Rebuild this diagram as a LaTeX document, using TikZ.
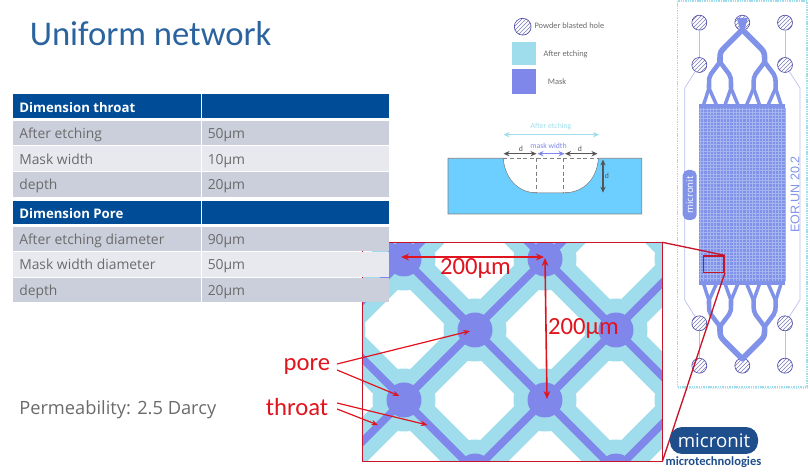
\documentclass[tikz,border=0pt]{standalone}
\usepackage{fontspec}
\setmainfont{Open Sans}
\newfontfamily\calfont{Carlito}
\newfontfamily\libfont{Liberation Sans}
\usetikzlibrary{patterns,arrows.meta,calc}
\definecolor{navy}{HTML}{004C97}
\definecolor{titleblue}{HTML}{2A639E}
\definecolor{rowa}{HTML}{CBCFDB}
\definecolor{rowb}{HTML}{E7E9EF}
\definecolor{txtgray}{HTML}{6B6B6B}
\definecolor{etch}{HTML}{A0DDEC}
\definecolor{mask}{HTML}{7F88EA}
\definecolor{chipblue}{HTML}{8093E8}
\definecolor{water}{HTML}{6DCFFF}
\definecolor{redl}{HTML}{E0141E}
\definecolor{darkred}{HTML}{C8142A}
\definecolor{logoblue}{HTML}{1F4E8C}
\definecolor{holeline}{HTML}{4F4FA8}
\definecolor{thinl}{HTML}{B9BEEE}
\definecolor{greyl}{HTML}{555555}
\tikzset{
  hd/.style={fill=navy,draw=none},
  ra/.style={fill=rowa,draw=none},
  rb/.style={fill=rowb,draw=none},
  tt/.style={anchor=base west,inner sep=0pt,text=txtgray,font=\fontsize{10.4}{12}\selectfont},
  th/.style={anchor=base west,inner sep=0pt,text=white,font=\fontsize{9.9}{12}\selectfont\bfseries},
  hole/.style={circle,draw=holeline,line width=.5pt,minimum size=11.2pt,inner sep=0pt,pattern=north east lines,pattern color=holeline!75},
  thin chip/.style={draw=thinl,line width=.5pt},
  tree/.style={draw=chipblue,line width=4.2pt,line join=round,line cap=round},
  treef/.style={draw=chipblue,line width=2.6pt,line join=round,line cap=round},
  redarrow/.style={draw=redl,line width=.9pt,-{Stealth[length=5pt,width=4pt]}},
  redboth/.style={draw=redl,line width=1.2pt,{Stealth[length=6pt,width=5pt]}-{Stealth[length=6pt,width=5pt]}},
  redlabel/.style={anchor=base,text=redl,inner sep=0pt,font=\calfont\fontsize{18.5}{20}\selectfont},
  dim/.style={draw=greyl,line width=.9pt,{Stealth[length=4.5pt,width=4pt]}-{Stealth[length=4.5pt,width=4pt]}},
  lg/.style={anchor=west,inner sep=0pt,text=txtgray,font=\calfont\fontsize{6.3}{7}\selectfont},
  small/.style={inner sep=0pt,font=\calfont\fontsize{5.8}{7}\selectfont},
}
\newcommand{\halftree}{%
  \draw[tree] (742,30) -- (726,46) .. controls (721,51) and (720,52) .. (720,58) -- (720,62);
  \draw[tree,line width=3.4pt] (720,62) -- (711,74) .. controls (709,77) and (709,78) .. (709,88);
  \draw[tree,line width=3.4pt] (720,62) -- (729,74) .. controls (731,77) and (731,78) .. (731,88);
  \draw[treef] (709,88) -- (703.5,105);
  \draw[treef] (709,88) -- (716.5,105);
  \draw[treef] (731,88) -- (725,105);
  \draw[treef] (731,88) -- (738,105);
}
\begin{document}
\begin{tikzpicture}[x=0.75pt,y=-0.75pt]
\useasboundingbox (0,0) rectangle (810,473);
% title
\node[anchor=west,inner sep=0pt,text=titleblue,font=\calfont\fontsize{26}{30}\selectfont] (title) at (29.5,34) {Uniform network};
% network
\begin{scope}
\clip (362.7,242.3) rectangle (662.3,461.7);
\foreach \i in {-1,...,2}{\foreach \j in {-1,...,2}{
  \draw[etch,line width=26.2pt,line cap=round] (404+141*\i,259+141*\j) -- ++(141,141);
  \draw[etch,line width=26.2pt,line cap=round] (404+141*\i,400+141*\j) -- ++(141,-141);
}}
\foreach \i in {-1,...,2}{\foreach \j in {-1,...,2}{
  \fill[etch] (404+141*\i,259+141*\j) circle[radius=31.5];
  \fill[etch] (475+141*\i,330+141*\j) circle[radius=31.5];
}}
\foreach \i in {-1,...,2}{\foreach \j in {-1,...,2}{
  \draw[mask,line width=5.6pt] (404+141*\i,259+141*\j) -- ++(141,141);
  \draw[mask,line width=5.6pt] (404+141*\i,400+141*\j) -- ++(141,-141);
}}
\foreach \i in {-1,...,2}{\foreach \j in {-1,...,2}{
  \fill[mask] (404+141*\i,259+141*\j) circle[radius=17.5];
  \fill[mask] (475+141*\i,330+141*\j) circle[radius=17.5];
}}
\end{scope}
\coordinate (bTL) at (362.7,242.3);
\coordinate (bTR) at (662.3,242.3);
\coordinate (bBR) at (662.3,461.7);
\coordinate (bBL) at (362.7,461.7);
\draw[darkred,line width=1pt] (bTL) -- (bTR) -- (bBR) -- (bBL) -- cycle;
% table
\fill[hd] (12.7,94.3) rectangle (200.7,118.3);
\fill[hd] (201.7,94.3) rectangle (389.3,118.3);
\fill[ra] (12.7,121) rectangle (200.7,145);
\fill[ra] (201.7,121) rectangle (389.3,145);
\fill[rb] (12.7,146) rectangle (200.7,171);
\fill[rb] (201.7,146) rectangle (389.3,171);
\fill[ra] (12.7,172.3) rectangle (200.7,196.7);
\fill[ra] (201.7,172.3) rectangle (389.3,196.7);
\fill[hd] (12.7,200.7) rectangle (200.7,224.3);
\fill[hd] (201.7,200.7) rectangle (389.3,224.3);
\fill[ra] (12.7,227.3) rectangle (200.7,250.7);
\fill[ra] (201.7,227.3) rectangle (389.3,250.7);
\fill[rb] (12.7,251.7) rectangle (200.7,277.3);
\fill[rb] (201.7,251.7) rectangle (389.3,277.3);
\fill[ra] (12.7,278.3) rectangle (200.7,302.3);
\fill[ra] (201.7,278.3) rectangle (389.3,302.3);
\node[th] (h1) at (19,113) {Dimension throat};
\node[tt] (a1) at (19,138.7) {After etching};
\node[tt] (a2) at (207.5,138.7) {50µm};
\node[tt] (b1) at (19,164.4) {Mask width};
\node[tt] (b2) at (207.5,164.4) {10µm};
\node[tt] (c1) at (19,189.7) {depth};
\node[tt] (c2) at (207.5,189.7) {20µm};
\node[th] (h2) at (19,218.4) {Dimension Pore};
\node[tt] (d1) at (19,244.7) {After etching diameter};
\node[tt] (d2) at (207.5,244.7) {90µm};
\node[tt] (e1) at (19,270) {Mask width diameter};
\node[tt] (e2) at (207.5,270) {50µm};
\node[tt] (f1) at (19,295.7) {depth};
\node[tt] (f2) at (207.5,295.7) {20µm};
\node[anchor=west,inner sep=0pt,text=txtgray,font=\fontsize{13.7}{15}\selectfont] (perm) at (19,410) {Permeability: 2.5 Darcy};
% legend
\node[hole,minimum size=12.6pt] (lh) at (522.7,26.7) {};
\node[lg] (lht) at (534.3,26) {Powder blasted hole};
\node[fill=etch,minimum width=17.8pt,minimum height=17.5pt,inner sep=0pt] (le) at (524.2,53.3) {};
\node[lg] (let) at (543.3,54) {After etching};
\node[fill=mask,minimum width=18.4pt,minimum height=18.5pt,inner sep=0pt] (lm) at (523.9,81.7) {};
\node[lg] (lmt) at (547.7,82) {Mask};
% cross-section
\fill[water,draw=gray,line width=.6pt] (448,158.3) -- (503.3,158.3) .. controls (505,178) and (518,192.7) .. (536.7,192.7) -- (564,192.7) .. controls (584,192.7) and (597,178) .. (598.3,158.3) -- (641.7,158.3) -- (641.7,214) -- (448,214) -- cycle;
\fill[white] (503.6,157.9) .. controls (505.3,178) and (518,192.3) .. (536.7,192.3) -- (564,192.3) .. controls (584,192.3) and (596.7,178) .. (598,157.9) -- cycle;
\draw[gray,line width=.9pt,dash pattern=on 3pt off 2pt] (503.3,158.3) -- (598.3,158.3);
\draw[gray,line width=.9pt,dash pattern=on 3pt off 2pt] (536.7,158.3) -- (536.7,192.7);
\draw[gray,line width=.9pt,dash pattern=on 3pt off 2pt] (563.5,158.3) -- (563.5,192.7);
\coordinate (aL) at (503.5,134.7); \coordinate (aR) at (599,134.7);
\draw[etch,line width=.9pt,{Stealth[length=4.5pt,width=4pt]}-{Stealth[length=4.5pt,width=4pt]}] (aL) -- (aR);
\node[small,text=etch] (ae) at (551,126.5) {After etching};
\node[small,text=mask] (mw) at (548.5,146) {mask width};
\node[small,text=greyl] (d1t) at (521,149) {d};
\node[small,text=greyl] (d2t) at (580,149) {d};
\node[small,text=greyl] (d3t) at (607,176) {d};
\coordinate (da) at (503.5,153.7); \coordinate (db) at (536.5,153.7);
\coordinate (dc) at (565,153.7); \coordinate (dd) at (597.5,153.7);
\coordinate (me) at (537.5,153.7); \coordinate (mf) at (564.5,153.7);
\coordinate (vt) at (603,159.5); \coordinate (vb) at (603,192.7);
\draw[dim] (da) -- (db);
\draw[dim] (dc) -- (dd);
\draw[dim] (vt) -- (vb);
\draw[draw=mask,line width=.9pt,{Stealth[length=4.5pt,width=4pt]}-{Stealth[length=4.5pt,width=4pt]}] (me) -- (mf);
% chip
\draw[etch,line width=.8pt,dash pattern=on .8pt off .5pt] (677.7,1) rectangle (807,387);
\draw[etch!60,line width=.4pt,densely dotted] (678,388.5) -- (807,388.5);
\node[hole] (h11) at (699.3,22.7) {};
\node[hole] (h12) at (742.3,22.7) {};
\node[hole] (h13) at (785,22.7) {};
\node[hole] (h21) at (699.3,65) {};
\node[hole] (h23) at (785,65) {};
\node[hole] (h31) at (699.3,323.3) {};
\node[hole] (h33) at (785,323.3) {};
\node[hole] (h41) at (699.3,365.7) {};
\node[hole] (h42) at (742.3,365.7) {};
\node[hole] (h43) at (785,365.7) {};
\draw[thin chip] (h11) -- (h21);
\draw[thin chip] (h13) -- (h23);
\draw[thin chip] (h31) -- (h41);
\draw[thin chip] (h33) -- (h43);
\draw[thin chip] (h21) -- (684.7,88) -- (684.7,300) -- (h31);
\draw[thin chip] (h23) -- (800,88) -- (800,300) -- (h33);
\begin{scope}
 \halftree
\end{scope}
\begin{scope}[xshift=1113.45pt,xscale=-1]
 \halftree
\end{scope}
\begin{scope}[yshift=-291.45pt,yscale=-1]
 \halftree
\end{scope}
\begin{scope}[xshift=1113.45pt,xscale=-1,yshift=-291.45pt,yscale=-1]
 \halftree
\end{scope}
\fill[chipblue!70!mask] (736.8,18) -- (747.8,18) -- (745,28) -- (739.6,28) -- cycle;
\fill[chipblue] (699.3,104.3) rectangle (785,284.7);
\foreach \k in {0,...,26}{\draw[white!30!chipblue,line width=.45pt] (700.5+3.25*\k,108) -- (700.5+3.25*\k,281);}
\foreach \k in {0,...,52}{\draw[white!30!chipblue,line width=.45pt] (699.3,109+3.25*\k) -- (785,109+3.25*\k);}
\node[fill=chipblue,rounded corners=4pt,rotate=90,minimum width=37.5pt,minimum height=10.5pt,inner sep=0pt,text=white,font=\fontsize{7.2}{8}\selectfont] (pill) at (689.7,195) {micronit};
\node[rotate=90,inner sep=0pt,text=chipblue,font=\libfont\fontsize{9.4}{10}\selectfont] (eor) at (795,194.5) {EOR.UN 20.2};
% red zoom
\node[draw=darkred,line width=1.1pt,minimum width=15.5pt,minimum height=12.2pt,inner sep=0pt] (sq) at (713.7,264.2) {};
\draw[darkred,line width=1pt] (bTR) -- (sq.north east);
\draw[darkred,line width=1pt] (bBR) -- (sq.south east);
% logo
\node[fill=logoblue,rounded corners=9pt,minimum width=66pt,minimum height=20.2pt,inner sep=0pt,text=white,font=\fontsize{14}{16}\selectfont] (logo) at (714,440.5) {micronit};
\node[inner sep=0pt,text=logoblue,font=\calfont\bfseries\fontsize{9.4}{10}\selectfont] (mt) at (713.5,462) {microtechnologies};
% labels and arrows
\node[redlabel] (w200) at (475.5,275) {200µm};
\node[redlabel] (h200) at (583.5,335) {200µm};
\node[redlabel] (pore) at (307,371) {pore};
\node[redlabel] (throat) at (297,416) {throat};
\coordinate (p1) at (470,331); \coordinate (p2) at (399.5,396);
\coordinate (t1) at (427.5,425); \coordinate (t2) at (378,425);
\coordinate (hA) at (401,257); \coordinate (hB) at (544,257);
\coordinate (vA) at (545,258); \coordinate (vB) at (547,399);
\draw[redarrow] (337,364) -- (p1);
\draw[redarrow] (337,370) -- (p2);
\draw[redarrow] (337,403) -- (t1);
\draw[redarrow] (337,409) -- (t2);
\draw[redboth] (hA) -- (hB);
\draw[redboth] (vA) -- (vB);
\end{tikzpicture}
\end{document}
